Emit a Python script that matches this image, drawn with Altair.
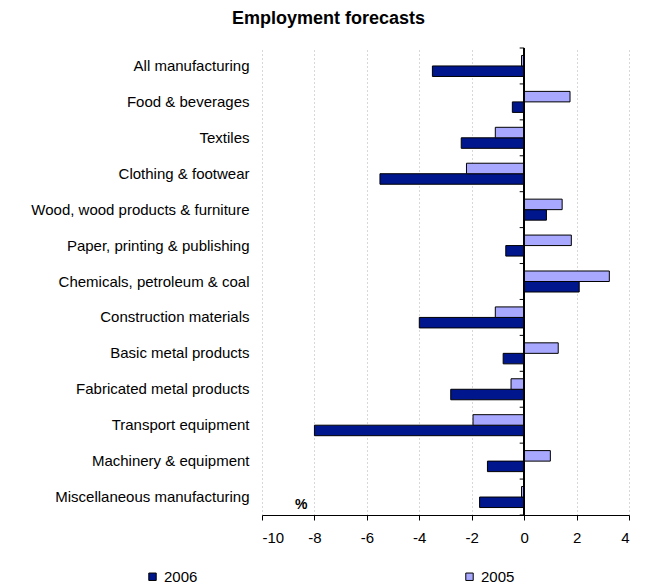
import altair as alt
import pandas as pd

categories = [
    "All manufacturing",
    "Food & beverages",
    "Textiles",
    "Clothing & footwear",
    "Wood, wood products & furniture",
    "Paper, printing & publishing",
    "Chemicals, petroleum & coal",
    "Construction materials",
    "Basic metal products",
    "Fabricated metal products",
    "Transport equipment",
    "Machinery & equipment",
    "Miscellaneous manufacturing",
]
values_2006 = [-3.5, -0.45, -2.4, -5.5, 0.85, -0.7, 2.1, -4.0, -0.8, -2.8, -8.0, -1.4, -1.7]
values_2005 = [-0.1, 1.75, -1.1, -2.2, 1.45, 1.8, 3.25, -1.1, 1.3, -0.5, -1.95, 1.0, -0.1]
series = ["2006", "2005"]
x_ticks = [-10, -8, -6, -4, -2, 0, 2, 4]

DARK = "#00168C"
LIGHT = "#A8A8FF"
FONT = "Liberation Sans"

rows = []
for c, a, b in zip(categories, values_2006, values_2005):
    rows.append({"category": c, "series": "2006", "value": a})
    rows.append({"category": c, "series": "2005", "value": b})
df = pd.DataFrame(rows)

# band boundaries for the category tick marks on the zero axis
boundaries = pd.DataFrame({"idx": list(range(len(categories) + 1))})

yscale = alt.Scale(paddingInner=0.415, paddingOuter=0.2075)

bars = alt.Chart(df).mark_bar(stroke="black", strokeWidth=1).encode(
    x=alt.X(
        "value:Q",
        scale=alt.Scale(domain=[-10, 4], nice=False, zero=False),
        axis=alt.Axis(
            values=x_ticks, grid=True, gridDash=[1, 3], gridColor="#b0b0b0",
            domainColor="black", tickColor="black", tickSize=5,
            labelFontSize=15, labelPadding=10, labelColor="black", title=None,
            labelExpr="'' + datum.value",
        ),
    ),
    y=alt.Y(
        "category:N", sort=categories, scale=yscale,
        axis=alt.Axis(
            domain=False, ticks=False, labelFontSize=15, labelPadding=13,
            labelColor="black", title=None, labelLimit=400, grid=False,
        ),
    ),
    yOffset=alt.YOffset("series:N", sort=["2005", "2006"],
                        scale=alt.Scale(paddingInner=0, paddingOuter=0)),
    color=alt.Color(
        "series:N",
        scale=alt.Scale(domain=series, range=[DARK, LIGHT]),
        legend=alt.Legend(
            orient="none", legendX=-117, legendY=521, direction="horizontal",
            title=None, symbolType="square", symbolSize=55,
            symbolStrokeColor="black", symbolStrokeWidth=1,
            labelFontSize=15, labelColor="black", columnPadding=264,
        ),
    ),
)

pct = alt.Chart(pd.DataFrame({"t": ["%"]})).mark_text(
    text="%", fontWeight="bold", fontSize=14, color="black", dy=8
).encode(
    x=alt.datum(-8.5),
    y=alt.Y(datum="Miscellaneous manufacturing", type="nominal"),
)

zero_line = alt.Chart(boundaries).mark_rule(color="black", strokeWidth=1).encode(
    x=alt.datum(0),
)

tick_marks = alt.Chart(boundaries).mark_rule(color="black", strokeWidth=1).encode(
    x=alt.datum(-0.17),
    x2=alt.datum(0),
    y=alt.Y("idx:Q", scale=alt.Scale(domain=[0, len(categories)], reverse=True, nice=False, zero=False), axis=None),
)

chart = alt.layer(alt.layer(bars, pct), zero_line, tick_marks).resolve_scale(y="independent").properties(
    width=367,
    height=467,
    autosize=alt.AutoSizeParams(type="none"),
    padding={"left": 262, "top": 48, "right": 19, "bottom": 69},
    title=alt.TitleParams(
        "Employment forecasts", fontSize=18, fontWeight="bold", color="black",
        anchor="middle", dx=-117, offset=20, font=FONT,
    ),
).configure(font=FONT).configure_view(stroke=None)

chart.save("out.html", embed_options={"renderer": "svg", "actions": False})
